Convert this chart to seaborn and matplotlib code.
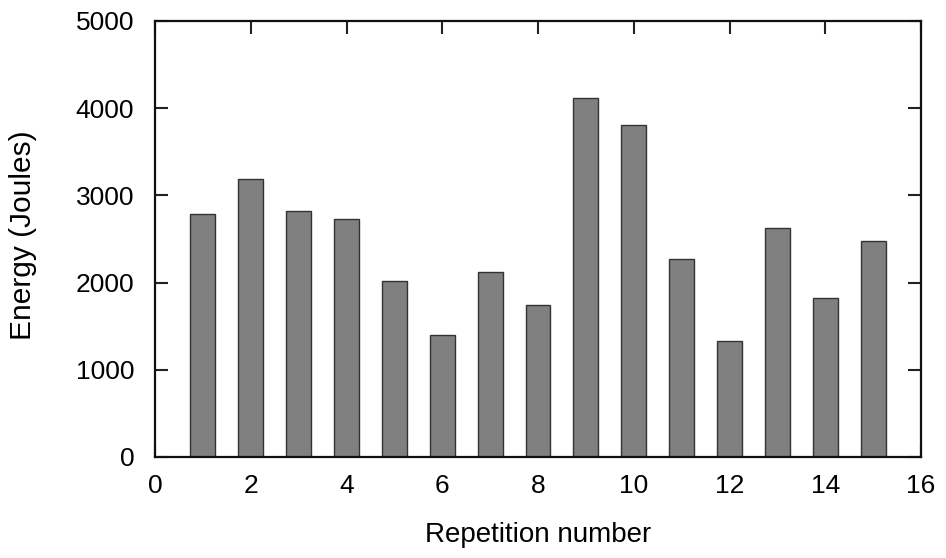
import matplotlib
matplotlib.use("Agg")
import matplotlib.pyplot as plt
import seaborn as sns
import pandas as pd

repetitions = [1, 2, 3, 4, 5, 6, 7, 8, 9, 10, 11, 12, 13, 14, 15]
energy = [2790, 3185, 2825, 2735, 2020, 1395, 2125, 1740, 4120, 3810, 2275, 1335, 2630, 1825, 2480]
x_ticks = [0, 2, 4, 6, 8, 10, 12, 14, 16]
y_ticks = [0, 1000, 2000, 3000, 4000, 5000]

sns.set_theme(style="white")
plt.rcParams['font.family'] = ['Liberation Sans', 'DejaVu Sans']

df = pd.DataFrame({"Repetition number": repetitions, "Energy (Joules)": energy})

fig = plt.figure(figsize=(9.46, 5.58), dpi=100)
ax = fig.add_axes([155/946, 101/558, (921-155)/946, (457-21)/558])

sns.barplot(data=df, x="Repetition number", y="Energy (Joules)", native_scale=True,
            width=0.52, color="#808080", saturation=1, edgecolor="#333333",
            linewidth=1.0, ax=ax, zorder=2)

ax.set_xlim(0, 16)
ax.set_ylim(0, 5000)
ax.set_xticks(x_ticks)
ax.set_yticks(y_ticks)
ax.set_axisbelow(True)
ax.tick_params(direction="in", length=9.5, width=1.5, color="#222222",
               labelsize=19, labelcolor="black", top=True, right=True,
               bottom=True, left=True)
ax.tick_params(axis="x", pad=12)
ax.tick_params(axis="y", pad=15)
for s in ax.spines.values():
    s.set_linewidth(1.6)
    s.set_color("#111111")
    s.set_visible(True)
ax.set_xlabel("Repetition number", fontsize=20, color="black")
ax.set_ylabel("Energy (Joules)", fontsize=21.5, color="black")
ax.xaxis.set_label_coords(0.5, -0.148)
ax.yaxis.set_label_coords(-0.154, 0.509)

fig.savefig("out.png", dpi=100)
